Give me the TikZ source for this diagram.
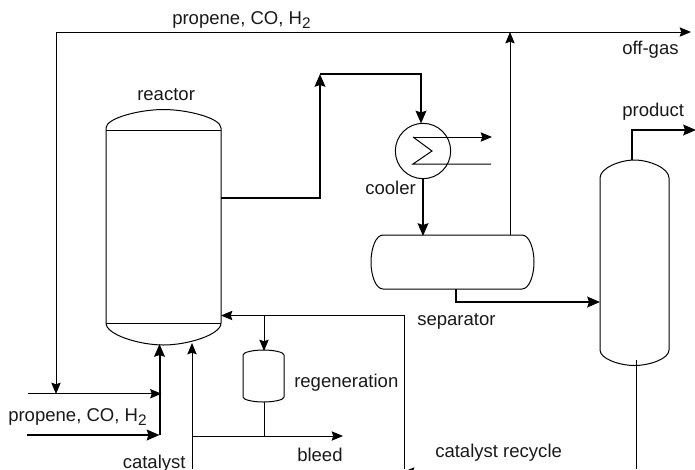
\documentclass[tikz,border=0pt]{standalone}
\usepackage{fontspec}
\setmainfont{Liberation Sans}
\usetikzlibrary{arrows.meta,positioning,calc}
\newcommand{\subtwo}{\raisebox{-0.22em}{\fontsize{11.5pt}{13pt}\selectfont 2}}
\tikzset{
  x=0.75pt,y=-0.75pt,
  pipe/.style={draw=black,line width=0.75pt,-{Stealth[length=8.5pt,width=7pt,inset=1.2pt]}},
  pipeplain/.style={draw=black,line width=0.75pt},
  thick pipe/.style={draw=black,line width=1.5pt,-{Stealth[length=9.5pt,width=8pt,inset=1.2pt]}},
  vessel/.style={draw=black,line width=0.75pt,fill=none},
  lbl/.style={font=\fontsize{13.9pt}{16pt}\selectfont,inner sep=0pt,text=black!90}
}
\begin{document}
\begin{tikzpicture}
\useasboundingbox (0,0) rectangle (695,469);
\clip (0,0) rectangle (695,469);
% vessels
\draw[vessel] (106,128) .. controls (106,118) and (140,109.5) .. (163.5,109.5) .. controls (187,109.5) and (221,118) .. (221,128) -- (221,323) .. controls (221,335) and (187,345) .. (163.5,345) .. controls (140,345) and (106,335) .. (106,323) -- cycle;
\draw[vessel] (106,130) -- (221,130);
\draw[vessel] (106,323.5) -- (221,323.5);
\draw[vessel] (600,178) .. controls (600,168) and (620,160) .. (634.5,160) .. controls (649,160) and (669,168) .. (669,178) -- (669,350) .. controls (669,359) and (649,365.5) .. (634.5,365.5) .. controls (620,365.5) and (600,359) .. (600,350) -- cycle;
\draw[vessel] (243,355) .. controls (243,352) and (254,350) .. (263.5,350) .. controls (273,350) and (284,352) .. (284,355) -- (284,397) .. controls (284,400) and (273,402) .. (263.5,402) .. controls (254,402) and (243,400) .. (243,397) -- cycle;
\draw[vessel] (383,235) -- (522,235) .. controls (529,235) and (534,248) .. (534,262) .. controls (534,276) and (529,289) .. (522,289) -- (383,289) .. controls (376,289) and (371,276) .. (371,262) .. controls (371,248) and (376,235) .. (383,235) -- cycle;
\node[draw=black,line width=0.75pt,circle,minimum size=41.5pt,inner sep=0pt] (cooler) at (423,151) {};
% named points
\coordinate (a1) at (56,32); \coordinate (a2) at (691,32);
\coordinate (a3) at (56,394);
\coordinate (b1) at (28,393.7); \coordinate (b2) at (161.5,393.7);
\coordinate (c1) at (27,435); \coordinate (c2) at (159.5,435); \coordinate (c3) at (159.5,344);
\coordinate (d1) at (192,469); \coordinate (d2) at (192,343);
\coordinate (e1) at (192,436); \coordinate (e2) at (343,436); \coordinate (e3) at (264,436); \coordinate (e4) at (264,402);
\coordinate (f1) at (404,469); \coordinate (f2) at (404,315.5); \coordinate (f3) at (221,315.5);
\coordinate (g1) at (264,315.5); \coordinate (g2) at (264,351);
\coordinate (h1) at (221,198); \coordinate (h2) at (320,198); \coordinate (h3) at (320,74);
\coordinate (h4) at (421,74); \coordinate (h5) at (421,123.5);
\coordinate (i1) at (423,179); \coordinate (i2) at (423,236);
\coordinate (j1) at (510,235); \coordinate (j2) at (510,32);
\coordinate (k1) at (456,289); \coordinate (k2) at (456,302); \coordinate (k3) at (600,302);
\coordinate (l1) at (632,160); \coordinate (l2) at (632,130); \coordinate (l3) at (696,130);
\coordinate (m1) at (413,137); \coordinate (m2) at (492,137);
\coordinate (m3) at (432,151); \coordinate (m4) at (413,164); \coordinate (m5) at (491,164);
\coordinate (n1) at (636,360); \coordinate (n2) at (636,469);
\coordinate (o1) at (470,472); \coordinate (o2) at (403,472);
% connectors
\draw[pipe] (a1) -- (a2);
\draw[pipe] (a1) -- (a3);
\draw[pipe] (b1) -- (b2);
\draw[thick pipe] (c1) -- (c2);
\draw[thick pipe] (c2) -- (c3);
\draw[pipe] (d1) -- (d2);
\draw[pipe] (e1) -- (e2);
\draw[pipeplain] (e3) -- (e4);
\draw[pipe] (f1) -- (f2) -- (f3);
\draw[pipe] (g1) -- (g2);
\draw[thick pipe] (h1) -- (h2) -- (h3);
\draw[thick pipe] (h3) -- (h4) -- (h5);
\draw[thick pipe] (i1) -- (i2);
\draw[pipe] (j1) -- (j2);
\draw[thick pipe] (k1) -- (k2) -- (k3);
\draw[thick pipe] (l1) -- (l2) -- (l3);
\draw[pipe] (m1) -- (m2);
\draw[pipeplain] (m1) -- (m3) -- (m4) -- (m5);
\draw[pipeplain] (n1) -- (n2);
\draw[pipe] (o1) -- (o2);
% labels
\node[lbl,anchor=base west] (t1) at (172,24) {propene, CO, H\subtwo};
\node[lbl,anchor=base west] (t2) at (622,54) {off-gas};
\node[lbl,anchor=base west] (t3) at (137,100) {reactor};
\node[lbl,anchor=base west] (t4) at (622,116) {product};
\node[lbl,anchor=base west] (t5) at (365,194) {cooler};
\node[lbl,anchor=base west] (t6) at (417,325) {separator};
\node[lbl,anchor=base west] (t7) at (294,387) {regeneration};
\node[lbl,anchor=base west] (t8) at (8,421.5) {propene, CO, H\subtwo};
\node[lbl,anchor=base west] (t9) at (435,457) {catalyst recycle};
\node[lbl,anchor=base west] (t10) at (297,461) {bleed};
\node[lbl,anchor=base west] (t11) at (122.5,468) {catalyst};
\end{tikzpicture}
\end{document}
